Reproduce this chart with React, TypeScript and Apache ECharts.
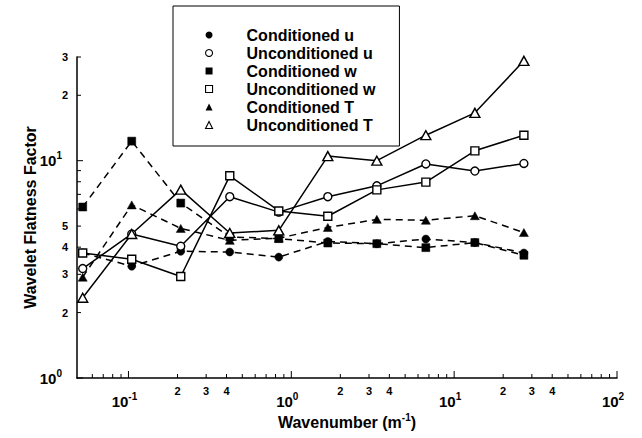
import React, { useEffect, useRef } from "react";
import * as echarts from "echarts";

// Wavelet wavenumbers (m^-1): octave bands k = (pi/60) * 2^j
const wavenumbers = [0.05236, 0.10472, 0.20944, 0.41888, 0.83776, 1.67552, 3.35103, 6.70206, 13.40413, 26.80826];

// Flatness factors per octave band
const conditionedU = [3.76, 3.27, 3.83, 3.80, 3.60, 4.25, 4.15, 4.36, 4.20, 3.76];
const unconditionedU = [3.19, 4.60, 4.04, 6.83, 5.80, 6.83, 7.66, 9.66, 8.96, 9.71];
const conditionedW = [6.12, 12.3, 6.38, 4.46, 4.38, 4.18, 4.15, 3.98, 4.20, 3.67];
const unconditionedW = [3.76, 3.52, 2.93, 8.52, 5.87, 5.55, 7.34, 7.97, 11.1, 13.1];
const conditionedT = [2.91, 6.26, 4.88, 4.30, 4.40, 4.93, 5.37, 5.32, 5.58, 4.67];
const unconditionedT = [2.34, 4.60, 7.36, 4.65, 4.78, 10.5, 10.0, 13.1, 16.6, 28.8];

// Axis ranges
const X_MIN = 0.0483;
const X_MAX = 100;
const Y_MIN = 1;
const Y_MAX = 30;

// Tick marks and their labels ("" = unlabelled minor tick)
const xTickValues = [
  0.06, 0.07, 0.08, 0.09, 0.1,
  0.2, 0.3, 0.4, 0.5, 0.6, 0.7, 0.8, 0.9, 1,
  2, 3, 4, 5, 6, 7, 8, 9, 10,
  20, 30, 40, 50, 60, 70, 80, 90, 100,
];
const xTickLabels = [
  "", "", "", "", "{b|10}{s|-1}",
  "2", "3", "4", "", "", "", "", "", "{b|10}{s|0}",
  "2", "3", "4", "", "", "", "", "", "{b|10}{s|1}",
  "2", "3", "4", "", "", "", "", "", "{b|10}{s|2}",
];
const xMajor = [0.1, 1, 10, 100];

const yTickValues = [1, 2, 3, 4, 5, 6, 7, 8, 9, 10, 20, 30];
const yTickLabels = ["{b|10}{s|0}", "2", "3", "4", "5", "", "", "", "", "{b|10}{s|1}", "2", "3"];
const yMajor = [1, 10];

const FONT = '"Liberation Sans", Arial, Helvetica, sans-serif';

const supRich = {
  b: { fontFamily: FONT, fontWeight: "bold", fontSize: 15, color: "#000" },
  s: { fontFamily: FONT, fontWeight: "bold", fontSize: 10, color: "#000", padding: [0, 0, 10, 0] },
};

type SeriesDef = {
  name: string;
  data: number[];
  symbol: string;
  size: number | number[];
  filled: boolean;
  dashed: boolean;
};

const seriesDefs: SeriesDef[] = [
  { name: "Conditioned u", data: conditionedU, symbol: "circle", size: 8, filled: true, dashed: true },
  { name: "Unconditioned u", data: unconditionedU, symbol: "circle", size: 8, filled: false, dashed: false },
  { name: "Conditioned w", data: conditionedW, symbol: "rect", size: 8, filled: true, dashed: true },
  { name: "Unconditioned w", data: unconditionedW, symbol: "rect", size: 8, filled: false, dashed: false },
  { name: "Conditioned T", data: conditionedT, symbol: "triangle", size: [9, 8], filled: true, dashed: true },
  { name: "Unconditioned T", data: unconditionedT, symbol: "triangle", size: [10, 9], filled: false, dashed: false },
];

export default function App() {
  const ref = useRef<HTMLDivElement>(null);

  useEffect(() => {
    if (!ref.current) return;
    const chart = echarts.init(ref.current, undefined, { renderer: "svg" });

    const lineSeries = seriesDefs.map((d) => ({
      name: d.name,
      type: "line",
      data: wavenumbers.map((k, i) => [k, d.data[i]]),
      symbol: d.symbol,
      symbolSize: d.size,
      showAllSymbol: true,
      lineStyle: { color: "#000", width: 1.5, type: d.dashed ? [7, 5] : "solid" },
      itemStyle: {
        color: d.filled ? "#000" : "#fff",
        borderColor: "#000",
        borderWidth: d.filled ? 0.5 : 1.4,
      },
      emphasis: { disabled: true },
      z: d.filled ? 3 : 4,
    }));

    const xTicks = {
      type: "custom",
      silent: true,
      data: xTickValues.map((v) => [v, Y_MIN]),
      encode: { x: 0, y: 1 },
      renderItem: (params: any, api: any) => {
        const i = params.dataIndex;
        const v = xTickValues[i];
        const p = api.coord([v, Y_MIN]);
        const major = xMajor.includes(v);
        const len = major ? 7 : 4;
        const label = xTickLabels[i];
        const children: any[] = [
          {
            type: "line",
            shape: { x1: p[0], y1: p[1], x2: p[0], y2: p[1] - len },
            style: { stroke: "#000", lineWidth: 1 },
          },
        ];
        if (label) {
          children.push({
            type: "text",
            style: major
              ? { text: label, x: p[0] - 4, y: p[1] + 23, align: "center", verticalAlign: "middle", rich: supRich }
              : {
                  text: label,
                  x: p[0],
                  y: p[1] + 13,
                  align: "center",
                  verticalAlign: "middle",
                  fill: "#000",
                  fontFamily: FONT,
                  fontWeight: "bold",
                  fontSize: 11,
                },
          });
        }
        return { type: "group", children };
      },
      z: 5,
    };

    const yTicks = {
      type: "custom",
      silent: true,
      data: yTickValues.map((v) => [X_MIN, v]),
      encode: { x: 0, y: 1 },
      renderItem: (params: any, api: any) => {
        const i = params.dataIndex;
        const v = yTickValues[i];
        const p = api.coord([X_MIN, v]);
        const major = yMajor.includes(v);
        const len = major ? 6 : 4;
        const label = yTickLabels[i];
        const children: any[] = [
          {
            type: "line",
            shape: { x1: p[0], y1: p[1], x2: p[0] + len, y2: p[1] },
            style: { stroke: "#000", lineWidth: 1 },
          },
        ];
        if (label) {
          children.push({
            type: "text",
            style: major
              ? { text: label, x: p[0] - 15, y: p[1], align: "right", verticalAlign: "middle", rich: supRich }
              : {
                  text: label,
                  x: p[0] - 12,
                  y: p[1],
                  align: "center",
                  verticalAlign: "middle",
                  fill: "#000",
                  fontFamily: FONT,
                  fontWeight: "bold",
                  fontSize: 11,
                },
          });
        }
        return { type: "group", children };
      },
      z: 5,
    };

    chart.setOption({
      animation: false,
      backgroundColor: "#fff",
      grid: { left: 77, right: 25, top: 57, bottom: 60, containLabel: false },
      legend: {
        orient: "vertical",
        left: 173,
        top: 6,
        padding: [21, 24, 13, 32],
        borderColor: "#000",
        borderWidth: 1,
        itemWidth: 7,
        itemHeight: 7,
        itemGap: 2,
        symbolKeepAspect: true,
        selectedMode: false,
        textStyle: {
          fontFamily: FONT,
          fontWeight: "bold",
          fontSize: 16,
          color: "#000",
          lineHeight: 16,
          padding: [0, 0, 0, 29],
        },
        data: seriesDefs.map((d) => ({
          name: d.name,
          icon: d.symbol,
          itemStyle: d.filled
            ? { color: "#000", borderWidth: 0 }
            : { color: "#fff", borderColor: "#000", borderWidth: 1.1 },
        })),
      },
      xAxis: {
        type: "log",
        logBase: 10,
        min: X_MIN,
        max: X_MAX,
        axisLine: { lineStyle: { color: "#000", width: 1.5 } },
        axisTick: { show: false },
        axisLabel: { show: false },
        splitLine: { show: false },
        name: "{a|Wavenumber (m}{s|-1}{a|)}",
        nameLocation: "middle",
        nameGap: 34,
        nameTextStyle: {
          rich: {
            a: { fontFamily: FONT, fontWeight: "bold", fontSize: 16, color: "#000" },
            s: { fontFamily: FONT, fontWeight: "bold", fontSize: 10, color: "#000", padding: [0, 0, 10, 0] },
          },
        },
      },
      yAxis: {
        type: "log",
        logBase: 10,
        min: Y_MIN,
        max: Y_MAX,
        axisLine: { lineStyle: { color: "#000", width: 1.5 } },
        axisTick: { show: false },
        axisLabel: { show: false },
        splitLine: { show: false },
        name: "Wavelet Flatness Factor",
        nameLocation: "middle",
        nameGap: 39,
        nameTextStyle: { fontFamily: FONT, fontWeight: "bold", fontSize: 16, color: "#000" },
      },
      series: [...lineSeries, xTicks, yTicks],
    });

    return () => chart.dispose();
  }, []);

  return (
    <div
      ref={ref}
      style={{ position: "fixed", left: 0, top: 0, width: 642, height: 438, background: "#fff" }}
    />
  );
}
